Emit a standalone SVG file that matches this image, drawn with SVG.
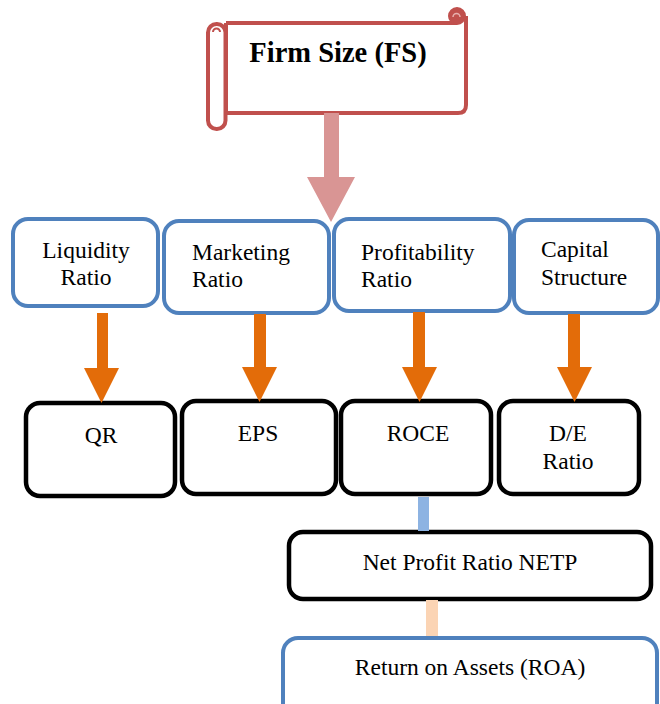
<svg xmlns="http://www.w3.org/2000/svg" width="660" height="704" viewBox="0 0 660 704">
<style>
  .t { font-family: 'Liberation Serif', 'DejaVu Serif', serif; font-size: 23.5px; fill: #000; }
  .big { font-size: 28.5px; font-weight: bold; }
  .b { fill: #fff; stroke: #4F81BD; stroke-width: 4; }
  .k { fill: #fff; stroke: #000; stroke-width: 4.5; }
  .o { fill: #E36C09; }
  .scroll { fill: #fff; stroke: #C0504D; stroke-width: 4; stroke-linejoin: round; }
</style>
<rect width="660" height="704" fill="#fff"/>

<g id="firm-size">
  <path class="scroll" d="M226,23 H457 M466,16 V105 Q466,113 458,113 H226 V23"/>
  <circle cx="457" cy="16" r="8" fill="#C0504D" stroke="#C0504D" stroke-width="2"/>
  <path d="M453,17 A3.5,3.5 0 0 1 460,17" fill="none" stroke="#E8B0AE" stroke-width="1.5"/>
  <rect class="scroll" x="208" y="24" width="17.5" height="105" rx="8.5"/>
  <path d="M213,32 A3.5,3.5 0 0 1 220,32" fill="none" stroke="#C0504D" stroke-width="2"/>
  <text class="t big" x="338" y="62" text-anchor="middle">Firm Size (FS)</text>
</g>

<g id="liquidity">
  <rect class="b" x="13" y="219" width="145" height="87" rx="15"/>
  <text class="t" x="86" y="258" text-anchor="middle">Liquidity</text>
  <text class="t" x="86" y="285" text-anchor="middle">Ratio</text>
</g>
<g id="marketing">
  <rect class="b" x="164" y="221" width="165" height="92" rx="15"/>
  <text class="t" x="192" y="260">Marketing</text>
  <text class="t" x="192" y="287">Ratio</text>
</g>
<g id="profitability">
  <rect class="b" x="334" y="219" width="176" height="92" rx="15"/>
  <text class="t" x="361" y="260">Profitability</text>
  <text class="t" x="361" y="287">Ratio</text>
</g>
<g id="capital">
  <rect class="b" x="514" y="220" width="144" height="93" rx="15"/>
  <text class="t" x="541" y="257">Capital</text>
  <text class="t" x="541" y="285">Structure</text>
</g>

<g id="qr">
  <rect class="k" x="26" y="403" width="149" height="93" rx="14"/>
  <text class="t" x="101" y="443" text-anchor="middle">QR</text>
</g>
<g id="eps">
  <rect class="k" x="182" y="401" width="154" height="93" rx="14"/>
  <text class="t" x="258" y="441" text-anchor="middle">EPS</text>
</g>
<g id="roce">
  <rect class="k" x="341" y="401" width="150" height="93" rx="14"/>
  <text class="t" x="418" y="441" text-anchor="middle">ROCE</text>
</g>
<g id="de">
  <rect class="k" x="499" y="401" width="140" height="93" rx="14"/>
  <text class="t" x="568" y="441" text-anchor="middle">D/E</text>
  <text class="t" x="568" y="469" text-anchor="middle">Ratio</text>
</g>

<g id="netp">
  <rect class="k" x="289" y="532" width="362" height="67" rx="14"/>
  <text class="t" x="470" y="570" text-anchor="middle">Net Profit Ratio NETP</text>
</g>
<g id="roa">
  <rect class="b" x="283" y="638" width="374" height="90" rx="15"/>
  <text class="t" x="470" y="675" text-anchor="middle">Return on Assets (ROA)</text>
</g>

<g id="connectors">
  <polygon fill="#D99594" points="324,113 339,113 339,177 355,177 331,222 307,177 324,177"/>
  <polygon class="o" points="97,313 108,313 108,368 119,368 101.5,403 84,368 97,368"/>
  <polygon class="o" points="254,314 266,314 266,367 277,367 259.5,402 242,367 254,367"/>
  <polygon class="o" points="413,312 425,312 425,367 437,367 419.5,402 402,367 413,367"/>
  <polygon class="o" points="568,314 580,314 580,367 592,367 574.5,402 557,367 568,367"/>
  <rect x="418" y="497" width="11" height="34" fill="#8DB3E2"/>
  <rect x="426" y="600" width="12" height="36" fill="#FBD4B4"/>
</g>
</svg>
